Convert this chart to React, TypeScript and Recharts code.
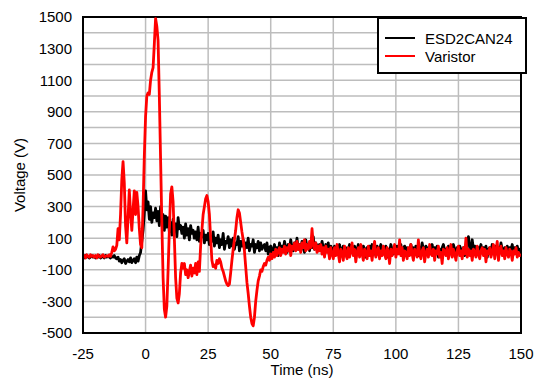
import {
  LineChart,
  Line,
  XAxis,
  YAxis,
  CartesianGrid,
  Legend,
  ReferenceArea,
} from "recharts";

// sample clock of the scope trace: first sample and spacing, in ns
const T_START = -25;
const T_STEP = 0.5;

const X_TICKS = [-25, 0, 25, 50, 75, 100, 125, 150];
const Y_TICKS = [-500, -400, -300, -200, -100, 0, 100, 200, 300, 400, 500, 600, 700, 800, 900, 1000, 1100, 1200, 1300, 1400, 1500];

// ESD2CAN24 clamp voltage (V), one value per 0.5 ns, rows of 5 ns
const ESD2CAN24 = [
  -15, -25, -10, -20, -15, -25, -20, -10, -20, -15,
  -25, -15, -20, -10, -25, -20, -15, -25, -10, -20,
  -15, -20, -25, -15, -20, -10, -25, -30, -20, -45,
  -35, -55, -40, -30, -60, -45, -35, -50, -25, -55,
  -40, -30, -55, -20, -45, -10, 10, 80, 150, 260,
  400, 280, 330, 220, 300, 200, 260, 230, 290, 210,
  270, 180, 300, 220, 250, 150, 240, 170, 230, 140,
  200, 120, 220, 150, 190, 110, 230, 160, 180, 130,
  170, 100, 190, 120, 160, 90, 180, 130, 150, 100,
  140, 90, 170, 80, 130, 110, 150, 70, 120, 90,
  130, 60, 110, 80, 140, 50, 100, 70, 120, 40,
  90, 60, 130, 30, 80, 70, 110, 40, 90, 50,
  100, 30, 70, 60, 110, 20, 80, 50, 90, 30,
  70, 40, 100, 20, 60, 50, 90, 10, 60, 40,
  80, 20, 70, 30, 50, 60, 20, 70, 0, 40,
  50, -20, 30, 60, 10, 40, -10, 70, 30, 50,
  20, 80, 40, 10, 60, 30, 90, 40, 20, 70,
  40, 100, 30, 60, 20, 80, 50, 10, 90, 40,
  60, 20, 80, 40, 110, 30, 70, 50, 20, 60,
  30, 80, 40, 10, 60, 40, 70, -10, 50, 30,
  20, 50, 0, 40, 10, 60, -10, 30, 50, 10,
  40, -20, 30, 60, 10, 40, 20, 50, -10, 30,
  60, 20, 40, 0, 50, 30, -20, 40, 10, 50,
  30, 60, 10, 40, -10, 50, 20, 30, 60, 0,
  40, 20, 50, -20, 30, 10, 60, 30, 0, 40,
  20, 50, 10, 40, 60, -10, 30, 50, 20, 40,
  0, 30, 60, 20, 40, 10, 50, 30, -10, 40,
  20, 70, 30, 10, 50, 20, 40, 0, 30, 60,
  10, 40, 20, 50, -20, 30, 10, 40, 60, 20,
  30, 0, 50, 20, 40, 10, 60, 30, -10, 40,
  20, 50, 30, 10, 40, -10, 30, 60, 110, 40,
  10, 90, 30, 50, 20, 0, 40, 30, 60, 10,
  40, 20, 50, -20, 30, 40, 10, 60, 30, 0,
  50, 20, 40, 10, 70, 30, -10, 40, 20, 50,
  10, 40, 30, 60, 0, 40, 20, 50, 10, 30,
  20,
];

// Varistor clamp voltage (V), same sample clock
const VARISTOR = [
  -20, -10, -25, -5, -15, -20, -5, -15, -10, -20,
  -10, -25, -5, -15, -20, -10, -5, -20, -15, -10,
  -15, -5, -15, 10, 45, 20, 30, 55, 160, 90,
  250, 470, 585, 450, 180, 70, 230, 405, 260, 150,
  280, 400, 250, 390, 300, 160, 60, 40, 300, 620,
  870, 1000, 1020, 1010, 1100, 1150, 1180, 1330, 1490, 1440,
  1350, 1000, 600, 200, -150, -350, -400, -330, -100, 150,
  380, 425, 330, 100, -150, -280, -310, -250, -120, -60,
  -90, -60, -130, -100, -150, -110, -70, -140, -90, -120,
  -60, -130, -50, -110, 50, 150, 250, 300, 350, 370,
  330, 250, 100, -40, -80, -70, -90, -40, -60, -30,
  -50, -90, -110, -140, -170, -190, -200, -190, -120, -40,
  30, 90, 150, 230, 280, 260, 200, 140, 90, 20,
  -80, -180, -250, -330, -400, -440, -455, -400, -300, -230,
  -170, -140, -100, -110, -80, -60, -70, -40, -20, -40,
  0, -30, 10, -20, 30, -10, 20, 40, -10, 30,
  10, 50, 0, 40, 20, 60, -10, 50, 30, 70,
  20, 80, 30, 60, 10, 70, 40, 90, 20, 60,
  30, 80, 40, 160, 60, 30, 70, 10, 50, 20,
  60, 0, 40, -20, 50, 10, 30, -30, 40, 0,
  -30, 40, -10, 60, 0, -50, 30, 10, -40, 50,
  0, -30, 40, -20, 20, 70, -10, 30, -50, 10,
  40, -20, 60, 0, -40, 30, 10, -30, 50, -10,
  20, -40, 30, 80, -20, 10, 40, -30, 20, -10,
  50, 0, -30, 40, 10, -60, 30, -10, 20, 60,
  -20, 30, 0, 90, -10, 40, -40, 20, 10, -30,
  40, -10, 60, 0, -40, 30, 10, -20, 90, 0,
  -30, 20, 40, -50, 10, 30, -20, 60, 0, -10,
  30, -40, 20, 0, 50, -20, 10, -60, 30, 20,
  -10, 40, -30, 10, 60, -20, 30, 0, -40, 20,
  50, -10, 20, -30, 40, 0, 100, -20, 30, -10,
  20, -40, 30, 10, -20, 50, 0, -30, 20, 40,
  -10, 30, -50, 20, 0, 40, -20, 10, 60, -30,
  20, 80, -40, 30, 50, -10, 20, -30, 40, 0,
  -20, 30, 10, -40, 20, 0, 40, -20, 10, -10,
  0,
];

const SERIES = [
  { key: "esd", name: "ESD2CAN24", color: "#000000" },
  { key: "varistor", name: "Varistor", color: "#ff0000" },
];

const FONT = '"Liberation Sans", Arial, sans-serif';

const data = ESD2CAN24.map((v, i) => ({
  t: T_START + i * T_STEP,
  esd: v,
  varistor: VARISTOR[i],
}));

function LegendBox() {
  return (
    <div
      style={{
        boxSizing: "border-box",
        width: 150,
        height: 57,
        border: "2px solid #000",
        background: "#fff",
        paddingTop: 10,
        fontFamily: FONT,
        fontSize: 15,
        color: "#000",
      }}
    >
      {SERIES.map((s) => (
        <div key={s.key} style={{ display: "flex", alignItems: "center", height: 18 }}>
          <span style={{ width: 30, height: 2.5, marginLeft: 6, marginRight: 10, background: s.color }} />
          <span>{s.name}</span>
        </div>
      ))}
    </div>
  );
}

function YTitle(props: any) {
  const vb = props.viewBox || { y: 17, height: 316 };
  const cx = 19;
  const cy = vb.y + vb.height / 2;
  return (
    <text
      x={cx}
      y={cy}
      transform={`rotate(-90, ${cx}, ${cy})`}
      textAnchor="middle"
      dominantBaseline="central"
      fontFamily={FONT}
      fontSize={15}
      fill="#000"
    >
      Voltage (V)
    </text>
  );
}

export default function App() {
  return (
    <div style={{ position: "relative", width: 534, height: 379, background: "#fff" }}>
      <style>{"body{margin:0;}"}</style>
      <LineChart
        width={534}
        height={379}
        data={data}
        margin={{ top: 17, right: 13, bottom: 0, left: 0 }}
        style={{ fontFamily: FONT }}
      >
        <CartesianGrid stroke="#bdbdbd" strokeWidth={1.5} />
        <XAxis
          dataKey="t"
          type="number"
          domain={[-25, 150]}
          ticks={X_TICKS}
          interval={0}
          allowDataOverflow
          height={46}
          tickLine={false}
          tickMargin={9}
          axisLine={{ stroke: "#000", strokeWidth: 2 }}
          tick={{ fontSize: 15, fill: "#000", fontFamily: FONT }}
          label={{ value: "Time (ns)", position: "insideBottom", offset: 4, fontSize: 15, fill: "#000", fontFamily: FONT }}
        />
        <YAxis
          type="number"
          domain={[-500, 1500]}
          ticks={Y_TICKS}
          interval={0}
          allowDataOverflow
          width={83}
          tickLine={false}
          tickMargin={5}
          axisLine={{ stroke: "#000", strokeWidth: 2 }}
          tick={{ fontSize: 15, fill: "#000", fontFamily: FONT }}
          tickFormatter={(v: number) => ((v + 500) % 200 === 0 ? String(v) : "")}
          label={<YTitle />}
        />
        <ReferenceArea
          x1={-25}
          x2={150}
          y1={-500}
          y2={1500}
          fill="none"
          fillOpacity={0}
          stroke="#000"
          strokeWidth={2}
        />
        {SERIES.map((s) => (
          <Line
            key={s.key}
            dataKey={s.key}
            name={s.name}
            type="linear"
            stroke={s.color}
            strokeWidth={2.8}
            strokeLinejoin="round"
            dot={false}
            activeDot={false}
            isAnimationActive={false}
          />
        ))}
        <Legend
          layout="horizontal"
          verticalAlign="middle"
          align="center"
          wrapperStyle={{ position: "absolute", top: 17, left: 377, width: 150, height: 57 }}
          content={() => <LegendBox />}
        />
      </LineChart>
    </div>
  );
}
